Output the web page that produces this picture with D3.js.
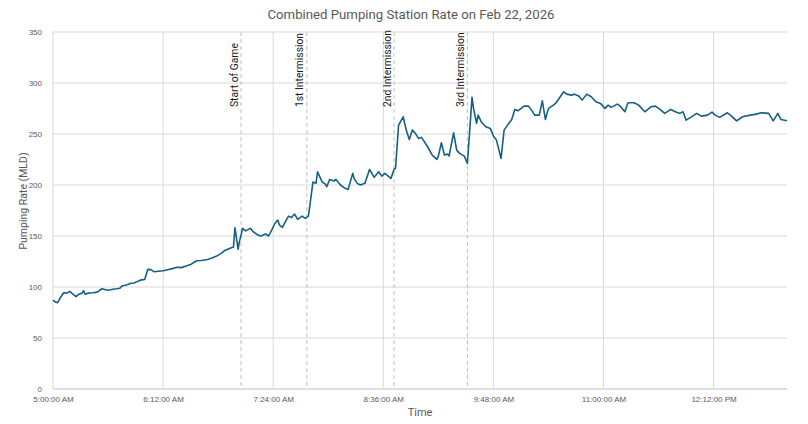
<!DOCTYPE html>
<html>
<head>
<meta charset="utf-8">
<script src="https://cdn.jsdelivr.net/npm/d3@7"></script>
<style>
  body { margin: 0; background: #fff; }
  svg { font-family: Roboto, "Noto Sans", sans-serif; }
</style>
</head>
<body>
<svg id="chart" width="808" height="424"></svg>
<script>
// minutes after 5:00 AM, and the pumping rate read at that time (MLD)
var minutes = [0, 2, 3, 5, 7, 9, 11, 13, 15, 17, 19, 20, 21, 23, 26, 29, 32, 35, 37, 40,
  42, 44, 45, 48, 51, 53, 56, 58, 60, 62, 64, 66, 69, 72, 75, 78, 81, 84, 87, 90,
  92, 94, 97, 101, 104, 107, 110, 112, 115, 117, 118, 119, 120, 121, 122, 124, 126, 129, 131, 134,
  136, 139, 141, 143, 145, 147, 148, 150, 152, 154, 156, 158, 160, 163, 165, 167, 168, 170, 172, 173,
  176, 178, 179, 181, 184, 185, 188, 191, 193, 196, 197, 199, 201, 204, 207, 210, 213, 215, 217, 221,
  223, 224, 226, 229, 231, 233, 235, 237, 239, 241, 245, 248, 251, 252, 254, 256, 258, 259, 262, 264,
  266, 269, 271, 272, 274, 275, 277, 278, 280, 283, 286, 288, 290, 293, 295, 298, 300, 302, 304, 308,
  311, 313, 315, 318, 320, 322, 324, 327, 329, 334, 336, 339, 341, 344, 346, 349, 352, 355, 358, 361,
  363, 365, 369, 371, 374, 376, 380, 383, 387, 391, 394, 397, 400, 404, 407, 410, 412, 414, 417, 421,
  424, 428, 431, 433, 436, 441, 443, 447, 451, 456, 460, 463, 468, 471, 474, 476, 480];

var rates = [87, 85, 84.6, 90, 94.4, 94, 95.7, 93, 90.5, 93, 94, 96.3, 93, 94, 94.4, 95, 98.3, 97, 97, 98,
  98.3, 99, 101, 102, 103.6, 104, 106, 107, 107.5, 117.3, 117, 115, 115.5, 116, 117, 118, 119.3, 119, 120.5, 122,
  124, 125.7, 126, 127, 128.5, 130.3, 133, 135.5, 137.5, 138.8, 139, 158, 148, 137, 145, 157.5, 155, 157.5, 154, 151,
  150, 152, 150, 155.8, 162, 165.6, 161, 158.4, 164, 169.5, 168.2, 171.5, 166.3, 169.5, 167.3, 169.5, 180, 203, 201.6, 213,
  203, 201, 198.3, 205.5, 204, 205.5, 200, 196.7, 195.7, 211.4, 206, 201.6, 200, 201.6, 215.3, 207.5, 213, 208.7, 211.4, 206.5,
  215.3, 216.3, 258.7, 266.9, 253.8, 244.7, 253.8, 250.6, 245.7, 246.7, 237.5, 229.3, 225.1, 228.3, 241.4, 229.3, 230.3, 228.3, 251.2, 234.2,
  231, 228.3, 221.2, 242.4, 285.9, 275.1, 260.4, 268.5, 262, 257.1, 255.5, 248, 244, 226.1, 253.8, 260.4, 264.3, 274.1, 272.7, 277.3,
  277.3, 273.4, 268.5, 268.5, 282.5, 264.3, 275.1, 278, 280.6, 291.4, 289.1, 288.1, 289.1, 287.1, 283.2, 289.1, 286.5, 281.6, 280, 275.1,
  278.3, 276.1, 279.3, 277.3, 271.8, 280.6, 280.6, 278.3, 271.8, 276.7, 277.3, 274.1, 270.2, 274.1, 271.8, 270.2, 271.8, 263.6, 266.3, 270.2,
  267.5, 268.5, 271.5, 268.5, 266.3, 270.8, 268.5, 262.9, 266.9, 268.5, 269.5, 270.8, 270.2, 262.9, 270.2, 264.3, 262.9];

var eventNames = ['Start of Game', '1st Intermission', '2nd Intermission', '3rd Intermission'];
var eventMinutes = [123, 166, 223, 271];

var yTicks = [0, 50, 100, 150, 200, 250, 300, 350];

var base = new Date(2026, 1, 22, 5, 0, 0);
var toDate = function(m) { return new Date(base.getTime() + m * 60000); };

var margin = {top: 32, right: 21, bottom: 35, left: 53};
var width = 808 - margin.left - margin.right;
var height = 424 - margin.top - margin.bottom;

var svg = d3.select('#chart');
var g = svg.append('g').attr('transform', 'translate(' + margin.left + ',' + margin.top + ')');

var x = d3.scaleTime()
    .domain([toDate(0), toDate(480)])
    .range([0, width]);
var y = d3.scaleLinear()
    .domain([0, 350])
    .range([height, 0]);

var xTicks = d3.range(0, 480, 72).map(toDate);
var fmt = d3.timeFormat('%-I:%M:%S %p');

// gridlines
g.append('g')
    .selectAll('line.hgrid')
    .data(yTicks)
    .enter()
    .append('line')
    .attr('x1', 0).attr('x2', width)
    .attr('y1', function(d) { return y(d); })
    .attr('y2', function(d) { return y(d); })
    .attr('stroke', function(d) { return d === 0 ? '#bfbfbf' : '#d9d9d9'; })
    .attr('stroke-width', 1);

g.append('g')
    .selectAll('line.vgrid')
    .data(xTicks)
    .enter()
    .append('line')
    .attr('x1', function(d) { return x(d); })
    .attr('x2', function(d) { return x(d); })
    .attr('y1', 0).attr('y2', height)
    .attr('stroke', '#d9d9d9')
    .attr('stroke-width', 1);

// axes (labels only)
var yAxis = g.append('g')
    .call(d3.axisLeft(y).tickValues(yTicks).tickSize(0).tickPadding(11));
yAxis.select('.domain').remove();
yAxis.selectAll('text').attr('fill', '#595959').style('font-size', '8px');

var xAxis = g.append('g')
    .attr('transform', 'translate(0,' + height + ')')
    .call(d3.axisBottom(x).tickValues(xTicks).tickFormat(fmt).tickSize(0).tickPadding(7));
xAxis.select('.domain').remove();
xAxis.selectAll('text').attr('fill', '#595959').style('font-size', '8px');

// event markers
var ev = g.append('g')
    .selectAll('g.event')
    .data(eventMinutes)
    .enter()
    .append('g');
ev.append('line')
    .attr('x1', function(d) { return x(toDate(d)); })
    .attr('x2', function(d) { return x(toDate(d)); })
    .attr('y1', 0).attr('y2', height)
    .attr('stroke', '#bfbfbf')
    .attr('stroke-width', 1)
    .attr('stroke-dasharray', '4,3');
ev.append('text')
    .attr('transform', function(d) {
        return 'translate(' + (x(toDate(d)) - 3.5) + ',75) rotate(-90)';
    })
    .attr('fill', '#1a1a1a')
    .style('font-size', '10.3px')
    .text(function(d, i) { return eventNames[i]; });

// the series
var line = d3.line()
    .x(function(d, i) { return x(toDate(d)); })
    .y(function(d, i) { return y(rates[i]); });

g.append('path')
    .datum(minutes)
    .attr('d', line)
    .attr('fill', 'none')
    .attr('stroke', '#156082')
    .attr('stroke-width', 1.6)
    .attr('stroke-linejoin', 'round');

// titles
svg.append('text')
    .attr('x', 411).attr('y', 19)
    .attr('text-anchor', 'middle')
    .attr('fill', '#595959')
    .style('font-size', '13.2px')
    .text('Combined Pumping Station Rate on Feb 22, 2026');

svg.append('text')
    .attr('transform', 'translate(27,201) rotate(-90)')
    .attr('text-anchor', 'middle')
    .attr('fill', '#595959')
    .style('font-size', '10.5px')
    .text('Pumping Rate (MLD)');

svg.append('text')
    .attr('x', 420).attr('y', 416)
    .attr('text-anchor', 'middle')
    .attr('fill', '#595959')
    .style('font-size', '11px')
    .text('Time');
</script>
</body>
</html>
